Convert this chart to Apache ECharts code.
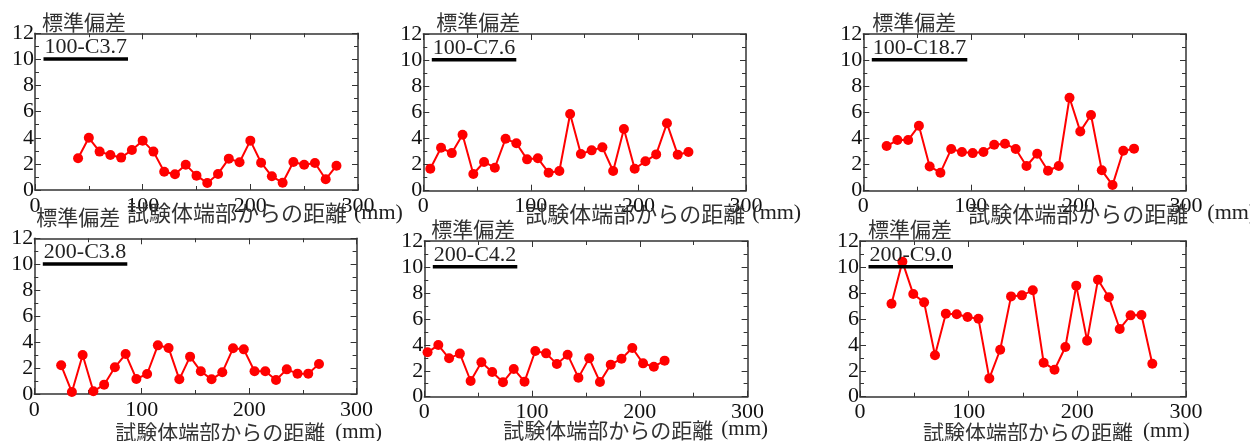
<!DOCTYPE html>
<html>
<head>
<meta charset="utf-8">
<script src="https://cdn.jsdelivr.net/npm/echarts@6/dist/echarts.min.js"></script>
<style>
  html, body { margin: 0; padding: 0; background: #fff; }
  #chart { width: 1250px; height: 441px; }
</style>
</head>
<body>
<div id="chart"></div>
<script>
// Standard deviation along the specimen, six specimens
const panelNames = ['100-C3.7', '100-C7.6', '100-C18.7', '200-C3.8', '200-C4.2', '200-C9.0'];

const dist1 = [40, 50, 60, 70, 80, 90, 100, 110, 120, 130, 140, 150, 160, 170, 180, 190, 200, 210, 220, 230, 240, 250, 260, 270, 280];
const sd1 = [2.43, 4.0, 2.94, 2.68, 2.48, 3.06, 3.78, 2.94, 1.40, 1.20, 1.94, 1.10, 0.54, 1.23, 2.40, 2.12, 3.78, 2.09, 1.05, 0.56, 2.14, 1.94, 2.07, 0.82, 1.86];

const dist2 = [6.5, 16.5, 26.5, 36.5, 46.5, 56.5, 66.5, 76.5, 86.5, 96.5, 106.5, 116.5, 126.5, 136.5, 146.5, 156.5, 166.5, 176.5, 186.5, 196.5, 206.5, 216.5, 226.5, 236.5, 246.5];
const sd2 = [1.68, 3.29, 2.88, 4.29, 1.28, 2.20, 1.76, 3.98, 3.63, 2.40, 2.48, 1.38, 1.51, 5.87, 2.81, 3.09, 3.32, 1.51, 4.72, 1.68, 2.25, 2.78, 5.16, 2.76, 2.96];

const dist3 = [21.7, 31.7, 41.7, 51.7, 61.7, 71.7, 81.7, 91.7, 101.7, 111.7, 121.7, 131.7, 141.7, 151.7, 161.7, 171.7, 181.7, 191.7, 201.7, 211.7, 221.7, 231.7, 241.7, 251.7];
const sd3 = [3.42, 3.88, 3.88, 4.98, 1.86, 1.38, 3.19, 2.96, 2.88, 2.96, 3.52, 3.60, 3.19, 1.89, 2.83, 1.53, 1.89, 7.12, 4.54, 5.80, 1.56, 0.43, 3.06, 3.22];

const dist4 = [25, 35, 45, 55, 65, 75, 85, 95, 105, 115, 125, 135, 145, 155, 165, 175, 185, 195, 205, 215, 225, 235, 245, 255, 265];
const sd4 = [2.21, 0.15, 3.01, 0.21, 0.72, 2.06, 3.08, 1.16, 1.54, 3.75, 3.55, 1.13, 2.88, 1.75, 1.13, 1.67, 3.52, 3.44, 1.75, 1.75, 1.08, 1.90, 1.57, 1.57, 2.31];

const dist5 = [3, 13, 23, 33, 43, 53, 63, 73, 83, 93, 103, 113, 123, 133, 143, 153, 163, 173, 183, 193, 203, 213, 223];
const sd5 = [3.42, 3.98, 2.96, 3.32, 1.21, 2.65, 1.90, 1.11, 2.14, 1.16, 3.52, 3.34, 2.52, 3.24, 1.47, 2.96, 1.13, 2.47, 2.93, 3.75, 2.57, 2.31, 2.78];

const dist6 = [29, 39, 49, 59, 69, 79, 89, 99, 109, 119, 129, 139, 149, 159, 169, 179, 189, 199, 209, 219, 229, 239, 249, 259, 269];
const sd6 = [7.17, 10.41, 7.91, 7.27, 3.19, 6.40, 6.35, 6.14, 6.01, 1.41, 3.62, 7.73, 7.81, 8.20, 2.62, 2.08, 3.83, 8.56, 4.32, 9.02, 7.66, 5.22, 6.27, 6.30, 2.54];

const xTickLabels = ['0', '100', '200', '300'];
const yTickLabels = ['0', '2', '4', '6', '8', '10', '12'];
const yName = '標準偏差';
const xName = '試験体端部からの距離';
const xUnit = '(mm)';

const dists = [dist1, dist2, dist3, dist4, dist5, dist6];
const sds = [sd1, sd2, sd3, sd4, sd5, sd6];

// plot boxes: left, top, width, height
const boxes = [
  [35, 33.3, 323, 156.7],
  [423.3, 34, 322.7, 156.7],
  [863.3, 34, 322.7, 156.7],
  [34.3, 238.3, 322.3, 155.7],
  [424.3, 241, 323.3, 155.7],
  [860, 241, 326, 155.7]
];
// x-axis title placement: offset from box left, offset below box bottom, gap before unit, font size
const xTitleLayout = [
  [92, 23, 7, 22],
  [102, 23, 7, 22],
  [105, 23, 19, 22],
  [81, 38, 10, 21],
  [79, 33, 8, 21],
  [63, 35, 10, 21]
];
const yNamePad = [7, 13, 9, 2, 7, 8];

const SERIF = 'Liberation Serif';
const CJK = 'Noto Sans CJK JP';
const AXIS_COLOR = '#333';

function measure(text, font) {
  const c = document.createElement('canvas').getContext('2d');
  c.font = font;
  return c.measureText(text).width;
}

const grids = [], xAxes = [], yAxes = [], series = [], graphics = [];

boxes.forEach((b, i) => {
  grids.push({ left: b[0], top: b[1], width: b[2], height: b[3], containLabel: false });

  const tickCommon = { show: true, inside: true, length: 6, lineStyle: { color: AXIS_COLOR, width: 1 } };
  const minorCommon = { show: true, splitNumber: 2, length: 4, lineStyle: { color: AXIS_COLOR, width: 1 } };
  const lineCommon = { show: true, onZero: false, lineStyle: { color: AXIS_COLOR, width: 1.5 } };

  xAxes.push({
    type: 'value', gridIndex: i, position: 'bottom', min: 0, max: 300, interval: 100,
    axisLine: lineCommon, axisTick: tickCommon, minorTick: minorCommon,
    splitLine: { show: false },
    axisLabel: {
      margin: 5, color: '#111', fontFamily: SERIF, fontSize: 22,
      formatter: v => xTickLabels[Math.round(v / 100)]
    }
  });
  xAxes.push({
    type: 'value', gridIndex: i, position: 'top', min: 0, max: 300, interval: 100,
    axisLine: lineCommon, axisTick: tickCommon, minorTick: minorCommon,
    splitLine: { show: false }, axisLabel: { show: false }
  });
  yAxes.push({
    type: 'value', gridIndex: i, position: 'left', min: 0, max: 12, interval: 2,
    axisLine: lineCommon, axisTick: tickCommon, minorTick: minorCommon,
    splitLine: { show: false },
    axisLabel: {
      margin: 1, color: '#111', fontFamily: SERIF, fontSize: 22,
      formatter: v => yTickLabels[Math.round(v / 2)]
    },
    name: yName, nameLocation: 'end', nameGap: 1,
    nameTextStyle: {
      fontFamily: CJK, fontSize: 21, color: '#333',
      align: 'left', verticalAlign: 'bottom', padding: [0, 0, 0, yNamePad[i]]
    }
  });
  yAxes.push({
    type: 'value', gridIndex: i, position: 'right', min: 0, max: 12, interval: 2,
    axisLine: lineCommon, axisTick: tickCommon, minorTick: minorCommon,
    splitLine: { show: false }, axisLabel: { show: false }
  });

  series.push({
    type: 'line', xAxisIndex: i * 2, yAxisIndex: i * 2,
    data: dists[i].map((d, k) => [d, sds[i][k]]),
    symbol: 'circle', symbolSize: 10, showAllSymbol: true,
    lineStyle: { color: '#ff0000', width: 2 },
    itemStyle: { color: '#ff0000' },
    emphasis: { disabled: true },
    animation: false, z: 3
  });

  // specimen name with thick underline
  const nameFont = '22px "' + SERIF + '"';
  const nameW = measure(panelNames[i], nameFont);
  const nx = b[0] + 8.5, ny = b[1] + 24;
  graphics.push({
    type: 'text', x: nx + 1, y: ny + 1, z: 10,
    style: { text: panelNames[i], fontFamily: SERIF, fontSize: 22, fill: '#222', verticalAlign: 'bottom' }
  });
  graphics.push({
    type: 'rect', z: 10,
    shape: { x: nx, y: ny, width: nameW + 2, height: 3.5 },
    style: { fill: '#000' }
  });

  // x-axis title
  const L = xTitleLayout[i];
  graphics.push({
    type: 'text', z: 10,
    x: b[0] + L[0], y: b[1] + b[3] + L[1],
    style: {
      text: '{a|' + xName + '}{b|' + xUnit + '}',
      verticalAlign: 'middle',
      rich: {
        a: { fontFamily: CJK, fontSize: L[3], fill: '#333', verticalAlign: 'middle' },
        b: { fontFamily: SERIF, fontSize: L[3], fill: '#222', padding: [0, 0, 0, L[2]], verticalAlign: 'middle' }
      }
    }
  });
});

const chart = echarts.init(document.getElementById('chart'), null, { renderer: 'canvas' });
chart.setOption({
  animation: false,
  backgroundColor: '#fff',
  grid: grids,
  xAxis: xAxes,
  yAxis: yAxes,
  series: series,
  graphic: graphics
});
</script>
</body>
</html>
